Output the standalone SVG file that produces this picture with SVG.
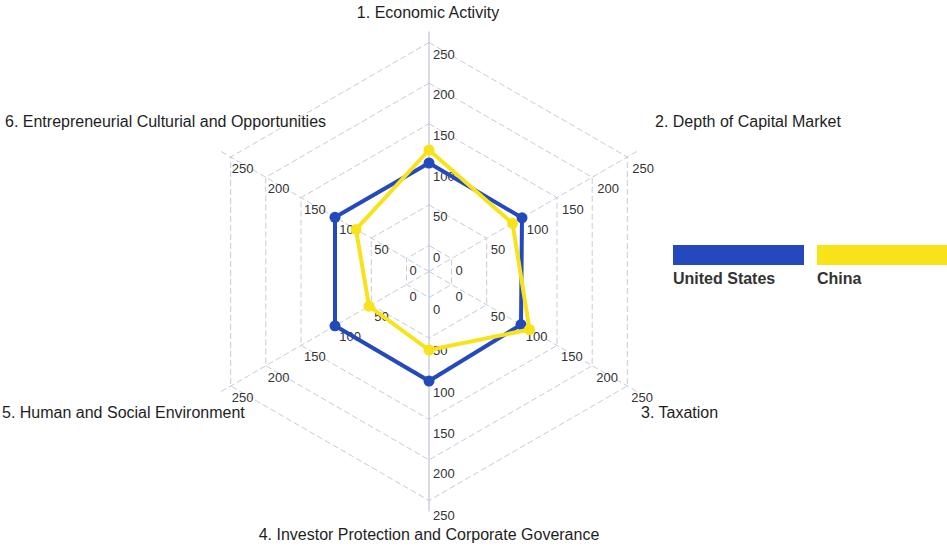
<svg xmlns="http://www.w3.org/2000/svg" width="947" height="550" viewBox="0 0 947 550">
<style>
.ring{fill:none;stroke:#c8cbd9;stroke-width:1;stroke-dasharray:6 3}
.axd{stroke:#c8cbd9;stroke-width:1;stroke-dasharray:6 3}
.axv{stroke:#bcc3de;stroke-width:1.2}
.tk{font-family:"Liberation Sans",Arial,sans-serif;font-size:13px;fill:#333}
.al{font-family:"Liberation Sans",Arial,sans-serif;font-size:16px;fill:#1e1e1e}
.lg{font-family:"Liberation Sans",Arial,sans-serif;font-size:16px;font-weight:bold;fill:#333}
.us{fill:none;stroke:#2349bd;stroke-width:4;stroke-linejoin:round}
.cn{fill:none;stroke:#f8e31a;stroke-width:4;stroke-linejoin:round}
</style>
<rect width="947" height="550" fill="#ffffff"/>
<g id="grid">
<polygon class="ring" points="429,245.5 451.5,258.5 451.5,284.5 429,297.5 406.5,284.5 406.5,258.5"/>
<polygon class="ring" points="429,204.9 486.7,238.2 486.7,304.8 429,338.1 371.3,304.8 371.3,238.2"/>
<polygon class="ring" points="429,164.3 521.8,217.9 521.8,325.1 429,378.7 336.2,325.1 336.2,217.9"/>
<polygon class="ring" points="429,123.7 557,197.6 557,345.4 429,419.3 301,345.4 301,197.6"/>
<polygon class="ring" points="429,83.1 592.2,177.3 592.2,365.7 429,459.9 265.8,365.7 265.8,177.3"/>
<polygon class="ring" points="429,42.5 627.3,157 627.3,386 429,500.5 230.7,386 230.7,157"/>
</g>
<g id="axes">
<line class="axv" x1="429" y1="31.5" x2="429" y2="511.5"/>
<line class="axd" x1="429" y1="271.5" x2="636.8" y2="151.5"/>
<line class="axd" x1="429" y1="271.5" x2="636.8" y2="391.5"/>
<line class="axd" x1="429" y1="271.5" x2="221.2" y2="391.5"/>
<line class="axd" x1="429" y1="271.5" x2="221.2" y2="151.5"/>
</g>
<g id="tick-labels">
<text class="tk" x="433" y="261.5">0</text>
<text class="tk" x="433" y="221">50</text>
<text class="tk" x="433" y="180.5">100</text>
<text class="tk" x="433" y="139.5">150</text>
<text class="tk" x="433" y="99">200</text>
<text class="tk" x="433" y="58.5">250</text>
<text class="tk" x="455.5" y="274.5">0</text>
<text class="tk" x="490.7" y="254.2">50</text>
<text class="tk" x="526.8" y="233.9">100</text>
<text class="tk" x="562" y="213.6">150</text>
<text class="tk" x="597.2" y="193.3">200</text>
<text class="tk" x="632.3" y="173">250</text>
<text class="tk" x="455.5" y="300.5">0</text>
<text class="tk" x="490.7" y="320.8">50</text>
<text class="tk" x="525.8" y="341.1">100</text>
<text class="tk" x="561" y="361.4">150</text>
<text class="tk" x="596.2" y="381.7">200</text>
<text class="tk" x="631.3" y="402">250</text>
<text class="tk" x="433" y="314">0</text>
<text class="tk" x="433" y="355">50</text>
<text class="tk" x="433" y="396.5">100</text>
<text class="tk" x="433" y="437.5">150</text>
<text class="tk" x="433" y="478">200</text>
<text class="tk" x="433" y="519.5">250</text>
<text class="tk" x="409.5" y="300.5">0</text>
<text class="tk" x="374.3" y="320.8">50</text>
<text class="tk" x="339.2" y="341.1">100</text>
<text class="tk" x="304" y="361.4">150</text>
<text class="tk" x="267.8" y="381.7">200</text>
<text class="tk" x="231.7" y="402">250</text>
<text class="tk" x="409.5" y="274.5">0</text>
<text class="tk" x="374.3" y="254.2">50</text>
<text class="tk" x="339.2" y="233.9">100</text>
<text class="tk" x="304" y="213.6">150</text>
<text class="tk" x="267.8" y="193.3">200</text>
<text class="tk" x="231.7" y="173">250</text>
</g>
<g id="axis-labels">
<text class="al" x="428" y="18" text-anchor="middle">1. Economic Activity</text>
<text class="al" x="655" y="127">2. Depth of Capital Market</text>
<text class="al" x="641" y="418">3. Taxation</text>
<text class="al" x="429" y="540" text-anchor="middle">4. Investor Protection and Corporate Goverance</text>
<text class="al" x="2" y="418">5. Human and Social Environment</text>
<text class="al" x="5" y="127">6. Entrepreneurial Culturial and Opportunities</text>
</g>
<g id="series-united-states">
<polygon class="us" points="429,163 522,217.8 521,324.6 429,381 335,325.8 335,217.3"/>
<g fill="#2349bd">
<circle cx="429" cy="163" r="5.5"/>
<circle cx="522" cy="217.8" r="5.5"/>
<circle cx="521" cy="324.6" r="5.5"/>
<circle cx="429" cy="381" r="5.5"/>
<circle cx="335" cy="325.8" r="5.5"/>
<circle cx="335" cy="217.3" r="5.5"/>
</g>
</g>
<g id="series-china">
<polygon class="cn" points="429,150 512.5,223.3 529.5,329.5 429,350 369,306.2 356,229.4"/>
<g fill="#f8e31a">
<circle cx="429" cy="150" r="5.5"/>
<circle cx="512.5" cy="223.3" r="5.5"/>
<circle cx="529.5" cy="329.5" r="5.5"/>
<circle cx="429" cy="350" r="5.5"/>
<circle cx="369" cy="306.2" r="5.5"/>
<circle cx="356" cy="229.4" r="5.5"/>
</g>
</g>
<g id="legend">
<rect x="673" y="245" width="131" height="20" fill="#2349bd"/>
<rect x="817" y="245" width="130" height="20" fill="#f8e31a"/>
<text class="lg" x="673" y="284">United States</text>
<text class="lg" x="817" y="284">China</text>
</g>
</svg>
